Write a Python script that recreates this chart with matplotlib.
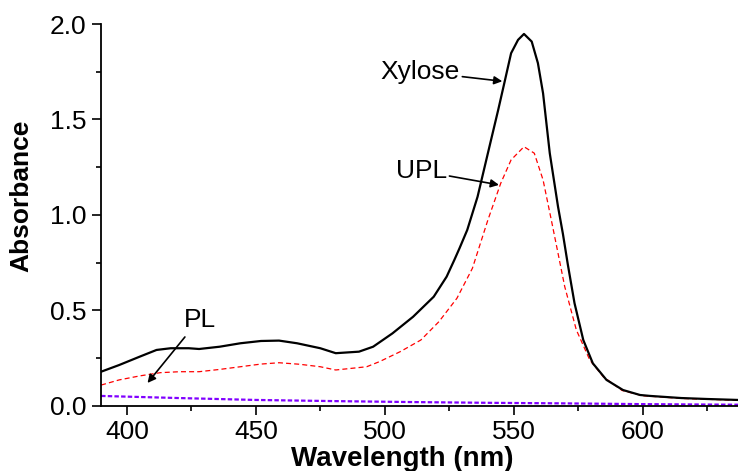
import matplotlib
matplotlib.use("Agg")
import matplotlib.pyplot as plt
from matplotlib.ticker import MultipleLocator

plt.rcParams['font.family'] = ['Liberation Sans', 'DejaVu Sans']

# Xylose spectrum (solid black)
wl_xyl = [390, 397, 405, 411.5, 417, 424, 428, 436, 444, 452, 459, 466, 475,
          481, 490, 495.5, 503, 511, 519, 524, 527, 529, 532, 536, 540, 544,
          546.5, 549, 551.7, 554, 557, 559.4, 561.4, 564, 567.2, 569.1, 571,
          573.6, 577, 580.7, 586, 592.4, 599, 603, 615, 625, 637]
xylose = [0.178, 0.213, 0.257, 0.292, 0.301, 0.301, 0.297, 0.309, 0.327, 0.339,
          0.341, 0.327, 0.301, 0.275, 0.283, 0.309, 0.379, 0.466, 0.571, 0.676,
          0.764, 0.825, 0.921, 1.095, 1.323, 1.55, 1.698, 1.847, 1.917, 1.948,
          1.908, 1.795, 1.637, 1.323, 1.043, 0.90, 0.74, 0.537, 0.344, 0.222,
          0.135, 0.082, 0.056, 0.051, 0.04, 0.035, 0.03]

# UPL spectrum (red dashed)
wl_upl = [390, 397, 405, 413, 420.5, 428, 436, 444, 452, 459, 467, 475, 481,
          493, 498, 506, 514, 521, 528, 534, 540, 545, 549, 554, 558, 561.4,
          564.6, 567.2, 569.8, 574.3, 579.5, 584.7, 592, 600, 615, 637]
upl = [0.108, 0.135, 0.156, 0.173, 0.178, 0.178, 0.19, 0.204, 0.218, 0.225,
       0.217, 0.204, 0.187, 0.204, 0.231, 0.283, 0.344, 0.44, 0.563, 0.72,
       0.973, 1.166, 1.288, 1.357, 1.323, 1.183, 0.973, 0.799, 0.624, 0.397,
       0.24, 0.152, 0.08, 0.052, 0.038, 0.028]

# PL spectrum (purple dashed)
wl_pl = [390, 420, 450, 480, 510, 540, 570, 600, 637]
pl = [0.051, 0.04, 0.03, 0.024, 0.019, 0.015, 0.012, 0.008, 0.005]

fig = plt.figure(figsize=(7.38, 4.71), dpi=100)
ax = fig.add_axes([0.137, 0.1387, 0.863, 0.8103])

ax.plot(wl_pl, pl, color='#8000ff', lw=1.6, dashes=(2, 1))
ax.plot(wl_upl, upl, color='red', lw=0.9, dashes=(4, 2.5))
ax.plot(wl_xyl, xylose, color='black', lw=1.6)

ax.set_xlim(390, 637)
ax.set_ylim(0, 2.0)
ax.xaxis.set_major_locator(MultipleLocator(50))
ax.xaxis.set_minor_locator(MultipleLocator(25))
ax.yaxis.set_major_locator(MultipleLocator(0.5))
ax.yaxis.set_minor_locator(MultipleLocator(0.25))
ax.yaxis.set_major_formatter(plt.FormatStrFormatter('%.1f'))

for s in ['top', 'right']:
    ax.spines[s].set_visible(False)
for s in ['left', 'bottom']:
    ax.spines[s].set_linewidth(1.3)

ax.tick_params(which='major', direction='out', length=6.5, width=1.2,
               labelsize=19, pad=4)
ax.tick_params(which='minor', direction='out', length=3.5, width=1.2)

ax.set_xlabel('Wavelength (nm)', fontsize=20, fontweight='bold')
ax.set_ylabel('Absorbance', fontsize=19, fontweight='bold')
ax.xaxis.set_label_coords(0.4725, -0.105)
ax.yaxis.set_label_coords(-0.107, 0.549)

# annotations
arrow = dict(arrowstyle='-|>', color='black', lw=1.2, mutation_scale=12,
             shrinkA=0, shrinkB=0)
ax.annotate('Xylose', xy=(545.6, 1.70), xytext=(529, 1.75), fontsize=19,
            ha='right', va='center', arrowprops=arrow)
ax.annotate('UPL', xy=(544.3, 1.157), xytext=(524, 1.23), fontsize=19,
            ha='right', va='center', arrowprops=arrow)
ax.annotate('', xy=(408, 0.119), xytext=(422.5, 0.36), arrowprops=arrow)
ax.text(428.5, 0.45, 'PL', fontsize=19, ha='center', va='center')

plt.savefig('out.png', dpi=100)
